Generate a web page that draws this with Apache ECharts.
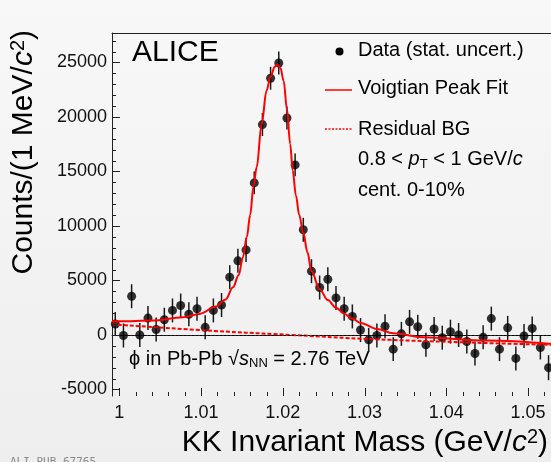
<!DOCTYPE html>
<html>
<head>
<meta charset="utf-8">
<script src="https://cdn.jsdelivr.net/npm/echarts@6/dist/echarts.min.js"></script>
<style>
  html, body { margin: 0; padding: 0; background: #f2f2f2; }
  #chart { width: 551px; height: 462px; }
</style>
</head>
<body>
<div id="chart"></div>
<script>
// K+K- invariant-mass bins (bin centres, GeV/c^2)
const massBins = [
  0.9995, 1.0005, 1.0015, 1.0025, 1.0035, 1.0045, 1.0055, 1.0065, 1.0075, 1.0085,
  1.0095, 1.0105, 1.0115, 1.0125, 1.0135, 1.0145, 1.0155, 1.0165, 1.0175, 1.0185,
  1.0195, 1.0205, 1.0215, 1.0225, 1.0235, 1.0245, 1.0255, 1.0265, 1.0275, 1.0285,
  1.0295, 1.0305, 1.0315, 1.0325, 1.0335, 1.0345, 1.0355, 1.0365, 1.0375, 1.0385,
  1.0395, 1.0405, 1.0415, 1.0425, 1.0435, 1.0445, 1.0455, 1.0465, 1.0475, 1.0485,
  1.0495, 1.0505, 1.0515, 1.0525
];
// background-subtracted counts per 1 MeV/c^2
const counts = [
  1000, -50, 3550, 0, 1550, 500, 1400, 2250, 2700, 1900,
  2400, 700, 2250, 2750, 5300, 6800, 7800, 13950, 19300, 23550,
  24950, 19900, 15600, 9650, 5850, 4350, 5100, 3400, 2400, 1700,
  450, -450, -50, 800, -1300, 100, 1200, 750, -900, 550,
  -250, 300, 0, -600, -1700, -200, 1500, -1300, 650, -2150,
  -100, 600, -1150, -3000
];
// statistical uncertainties
const statErr = [
  1100, 1100, 1100, 1100, 1100, 1100, 1100, 1100, 1100, 1100,
  1100, 1100, 1100, 1100, 1100, 1100, 1100, 1050, 1050, 1050,
  1050, 1050, 1050, 1100, 1100, 1100, 1100, 1100, 1100, 1100,
  1100, 1100, 1100, 1100, 1100, 1100, 1100, 1100, 1100, 1100,
  1100, 1100, 1100, 1100, 1100, 1100, 1100, 1100, 1100, 1100,
  1100, 1100, 1100, 1150
];
// Voigtian peak + residual background fit
const fitMass = [
  0.9991, 1.0000, 1.0040, 1.0078, 1.0098, 1.0118, 1.0130, 1.0139, 1.0146, 1.0151,
  1.0156, 1.0160, 1.0164, 1.0168, 1.0174, 1.0180, 1.0185, 1.0190, 1.0193, 1.0197,
  1.0201, 1.0205, 1.0209, 1.0212, 1.0216, 1.0220, 1.0225, 1.0230, 1.0235, 1.0245,
  1.0255, 1.0265, 1.0275, 1.0285, 1.0295, 1.0315, 1.0335, 1.0371, 1.0450, 1.0528
];
const fitCounts = [
  1250, 1250, 1320, 1620, 1930, 2600, 3250, 4370, 5500, 7100,
  9000, 11000, 13600, 15400, 19300, 22400, 23700, 24600, 24800, 24500,
  23300, 20700, 17500, 15100, 12800, 11000, 9400, 7600, 5850, 4200,
  3200, 2500, 1950, 1500, 1100, 550, 150, -200, -520, -830
];
// residual background component
const bgMass = [0.9991, 1.0098, 1.0210, 1.0331, 1.0528];
const bgCounts = [980, 450, 0, -450, -900];

// axis ticks
const xMajorTicks = [1.00, 1.01, 1.02, 1.03, 1.04, 1.05];
const yMajorTicks = [-5000, 0, 5000, 10000, 15000, 20000, 25000];
const xMinorTicks = [];
for (let i = 0; i <= 26; i++) xMinorTicks.push(+(1 + i * 0.002).toFixed(3));
const yMinorTicks = [];
for (let v = -5000; v <= 27000; v += 1000) yMinorTicks.push(v);

const X_MIN = 0.9991, X_MAX = 1.0528;
const Y_MIN = -5600, Y_MAX = 27700;
const FONT = '"Liberation Sans", Arial, Helvetica, sans-serif';
const AXIS_COLOR = '#222';

const points = massBins.map((m, i) => [m, counts[i], statErr[i]]);
const fitLine = fitMass.map((m, i) => [m, fitCounts[i]]);
const bgLine = bgMass.map((m, i) => [m, bgCounts[i]]);

const chart = echarts.init(document.getElementById('chart'), null, { renderer: 'canvas' });

const subRich = {
  sub: { fontSize: 13, fontFamily: FONT, padding: [9, 0, 0, 0] },
  sup: { fontSize: 20, fontFamily: FONT, padding: [0, 0, 12, 0] }
};

// inward tick marks on the bottom (x) and left (y) axes
function xTickSeries(values, len) {
  return {
    type: 'custom', xAxisIndex: 0, yAxisIndex: 0, clip: false, silent: true, z: 6,
    data: values.map(v => [v, Y_MIN]),
    renderItem: (params, api) => {
      const p = api.coord([api.value(0), api.value(1)]);
      const x = Math.round(p[0]) + 0.5;
      return { type: 'line', shape: { x1: x, y1: p[1], x2: x, y2: p[1] - len }, style: { stroke: AXIS_COLOR, lineWidth: 1 } };
    }
  };
}
function yTickSeries(values, len) {
  return {
    type: 'custom', xAxisIndex: 0, yAxisIndex: 0, clip: false, silent: true, z: 6,
    data: values.map(v => [X_MIN, v]),
    renderItem: (params, api) => {
      const p = api.coord([api.value(0), api.value(1)]);
      const y = Math.round(p[1]) + 0.5;
      return { type: 'line', shape: { x1: p[0], y1: y, x2: p[0] + len, y2: y }, style: { stroke: AXIS_COLOR, lineWidth: 1 } };
    }
  };
}

const option = {
  backgroundColor: {
    type: 'linear', x: 0, y: 0, x2: 0, y2: 1,
    colorStops: [{ offset: 0, color: '#f8f8f8' }, { offset: 1, color: '#eeeeee' }]
  },
  animation: false,
  grid: { left: 112, right: 0, top: 33, bottom: 66, containLabel: false },
  xAxis: [
    {
      type: 'value', min: X_MIN, max: X_MAX, position: 'bottom',
      axisLine: { show: true, lineStyle: { color: AXIS_COLOR, width: 1 } },
      axisTick: { show: false },
      axisLabel: {
        show: true, customValues: xMajorTicks, margin: 8,
        formatter: v => String(+(+v).toFixed(2)),
        fontFamily: FONT, fontSize: 18, color: '#111'
      },
      splitLine: { show: false }
    },
    {
      type: 'value', min: X_MIN, max: X_MAX, position: 'top',
      axisLine: { show: true, lineStyle: { color: AXIS_COLOR, width: 1 } },
      axisTick: { show: false }, axisLabel: { show: false }, splitLine: { show: false }
    }
  ],
  yAxis: [
    {
      type: 'value', min: Y_MIN, max: Y_MAX, position: 'left',
      axisLine: { show: true, lineStyle: { color: AXIS_COLOR, width: 1 } },
      axisTick: { show: false },
      axisLabel: {
        show: true, customValues: yMajorTicks, margin: 5,
        formatter: v => String(v),
        fontFamily: FONT, fontSize: 18, color: '#111'
      },
      splitLine: { show: false }
    }
  ],
  series: [
    {
      name: 'errors',
      type: 'custom',
      xAxisIndex: 0, yAxisIndex: 0,
      data: points,
      z: 2,
      renderItem: (params, api) => {
        const x = api.value(0), y = api.value(1), e = api.value(2);
        const top = api.coord([x, y + e]);
        const bot = api.coord([x, y - e]);
        return {
          type: 'line',
          shape: { x1: top[0], y1: top[1], x2: bot[0], y2: bot[1] },
          style: { stroke: '#1a1a1a', lineWidth: 1.5 }
        };
      }
    },
    {
      name: 'Data (stat. uncert.)',
      type: 'scatter',
      xAxisIndex: 0, yAxisIndex: 0,
      data: points.map(p => [p[0], p[1]]),
      symbol: 'circle', symbolSize: 9,
      itemStyle: { color: '#000' },
      z: 3,
      markLine: {
        silent: true, symbol: 'none', label: { show: false },
        lineStyle: { color: '#000', type: [2, 2], width: 1 },
        data: [{ yAxis: 0 }]
      }
    },
    {
      name: 'Residual BG',
      type: 'line',
      xAxisIndex: 0, yAxisIndex: 0,
      data: bgLine, showSymbol: false, smooth: true,
      lineStyle: { color: '#ff0000', width: 2, type: [4, 2] },
      z: 4
    },
    {
      name: 'Voigtian Peak Fit',
      type: 'line',
      xAxisIndex: 0, yAxisIndex: 0,
      data: fitLine, showSymbol: false, smooth: 0.35, smoothMonotone: 'x',
      lineStyle: { color: '#ff0000', width: 2 },
      z: 5
    },
    xTickSeries(xMajorTicks, 8),
    xTickSeries(xMinorTicks, 4),
    yTickSeries(yMajorTicks, 8),
    yTickSeries(yMinorTicks, 4)
  ],
  graphic: [
    // experiment label
    { type: 'text', x: 132, y: 52.5, style: { text: 'ALICE', font: '30px ' + FONT, fill: '#000', verticalAlign: 'middle' } },
    // legend
    { type: 'circle', shape: { cx: 339.5, cy: 51.5, r: 4 }, style: { fill: '#000' } },
    { type: 'text', x: 358, y: 50.3, style: { text: 'Data (stat. uncert.)', font: '20px ' + FONT, fill: '#000', verticalAlign: 'middle' } },
    { type: 'line', shape: { x1: 325, y1: 90, x2: 352, y2: 90 }, style: { stroke: '#ff0000', lineWidth: 1.5 } },
    { type: 'text', x: 358, y: 88.3, style: { text: 'Voigtian Peak Fit', font: '20px ' + FONT, fill: '#000', verticalAlign: 'middle' } },
    { type: 'line', shape: { x1: 325, y1: 129, x2: 352, y2: 129 }, style: { stroke: '#ff0000', lineWidth: 1.5, lineDash: [2, 1.5] } },
    { type: 'text', x: 358, y: 129, style: { text: 'Residual BG', font: '20px ' + FONT, fill: '#000', verticalAlign: 'middle' } },
    {
      type: 'text', x: 358, y: 159.5,
      style: {
        text: '0.8 < {i|p}{sub|T} < 1 GeV/{i|c}', font: '20px ' + FONT, fill: '#000', verticalAlign: 'middle',
        rich: { i: { fontStyle: 'italic', fontSize: 20, fontFamily: FONT }, sub: subRich.sub }
      }
    },
    { type: 'text', x: 358, y: 190, style: { text: 'cent. 0-10%', font: '20px ' + FONT, fill: '#000', verticalAlign: 'middle' } },
    // collision system
    {
      type: 'text', x: 129, y: 359,
      style: {
        text: 'ϕ in Pb-Pb √{i|s}{sub|NN} = 2.76 TeV', font: '20px ' + FONT, fill: '#000', verticalAlign: 'middle',
        rich: { i: { fontStyle: 'italic', fontSize: 20, fontFamily: FONT }, sub: subRich.sub }
      }
    },
    // axis titles
    {
      type: 'text', x: 548, y: 443,
      style: {
        text: 'KK Invariant Mass (GeV/{ic|c}{sup|2})', font: '30px ' + FONT, fill: '#000',
        align: 'right', verticalAlign: 'middle',
        rich: { ic: { fontStyle: 'italic', fontSize: 30, fontFamily: FONT }, sup: subRich.sup }
      }
    },
    {
      type: 'text', x: 24, y: 30, rotation: Math.PI / 2,
      style: {
        text: 'Counts/(1 MeV/{ic|c}{sup|2})', font: '30px ' + FONT, fill: '#000',
        align: 'right', verticalAlign: 'middle',
        rich: { ic: { fontStyle: 'italic', fontSize: 30, fontFamily: FONT }, sup: subRich.sup }
      }
    },
    // publication id
    { type: 'text', x: 10, y: 457, style: { text: 'ALI-PUB-67765', font: '11px "DejaVu Sans Mono", monospace', fill: '#8a8a8a', verticalAlign: 'top' } }
  ]
};

chart.setOption(option);
</script>
</body>
</html>
